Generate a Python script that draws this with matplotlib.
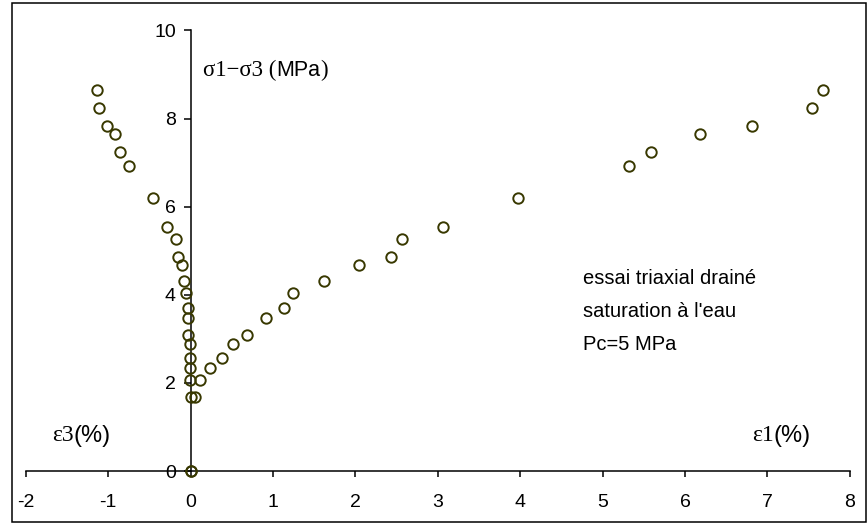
import matplotlib
matplotlib.use("Agg")
import matplotlib.pyplot as plt
from matplotlib.patches import Rectangle

# deviatoric stress (MPa) and the two strains (%)
q = [0, 1.68, 2.07, 2.35, 2.57, 2.89, 3.08, 3.48, 3.71, 4.04, 4.31,
     4.67, 4.86, 5.27, 5.53, 6.20, 6.92, 7.25, 7.65, 7.83, 8.24, 8.64]
eps1 = [0, 0.05, 0.12, 0.24, 0.385, 0.51, 0.68, 0.92, 1.14, 1.24, 1.62,
        2.04, 2.43, 2.57, 3.06, 3.98, 5.32, 5.59, 6.18, 6.81, 7.54, 7.68]
eps3 = [0, 0, -0.01, -0.01, -0.01, -0.01, -0.036, -0.03, -0.025, -0.05, -0.085,
        -0.10, -0.15, -0.17, -0.28, -0.45, -0.75, -0.85, -0.92, -1.01, -1.115, -1.135]

xticks = [-2, -1, 0, 1, 2, 3, 4, 5, 6, 7, 8]
yticks = [0, 2, 4, 6, 8, 10]

serif = "Liberation Serif"
sans = "Liberation Sans"
col = "#383800"

plt.rcParams["axes.unicode_minus"] = False

fig = plt.figure(figsize=(8.68, 5.24), dpi=100)
ax = fig.add_axes([0.0296, 0.101, 0.9494, 0.841])

for xs in (eps3, eps1):
    ax.plot(xs, q, linestyle="none", marker="o", markersize=7.5,
            markerfacecolor="none", markeredgecolor=col, markeredgewidth=1.4,
            clip_on=False, zorder=3)

ax.set_xlim(-2, 8)
ax.set_ylim(0, 10)
ax.set_xticks(xticks)
ax.set_yticks(yticks)

ax.spines["top"].set_visible(False)
ax.spines["right"].set_visible(False)
ax.spines["left"].set_position(("data", 0))
ax.spines["left"].set_linewidth(1.1)
ax.spines["bottom"].set_linewidth(1.1)
ax.tick_params(axis="both", labelsize=14, labelfontfamily=sans)
ax.tick_params(axis="x", direction="out", length=4.5, width=1.1, pad=12)
ax.tick_params(axis="y", direction="out", length=5, width=1.1, pad=5.5)

# axis captions, mixed serif / sans like the original
t = ax.text(0.15, 9.1, "σ1−σ3 (", family=serif, fontsize=16.5, va="center")
t2 = ax.annotate("MPa", xy=(1, 0.5), xycoords=t, va="center", family=sans, fontsize=15.5)
ax.annotate(")", xy=(1, 0.5), xycoords=t2, va="center", family=serif, fontsize=16.5)

t = ax.text(-1.68, 0.8, "ε3", family=serif, fontsize=17, va="center")
ax.annotate("(%)", xy=(1, 0.5), xycoords=t, va="center", family=sans, fontsize=17)
t = ax.text(6.81, 0.8, "ε1", family=serif, fontsize=17, va="center")
ax.annotate("(%)", xy=(1, 0.5), xycoords=t, va="center", family=sans, fontsize=17)

ax.text(4.76, 3.62, "essai triaxial drainé\nsaturation à l'eau\nPc=5 MPa",
        family=sans, fontsize=14.5, va="center", ha="left", linespacing=1.95)

# chart border
fig.patches.append(Rectangle((11.5 / 868, 2.5 / 524), 854 / 868, 519 / 524,
                             transform=fig.transFigure, fill=False,
                             edgecolor="black", linewidth=1.1))

fig.savefig("out.png", dpi=100)
